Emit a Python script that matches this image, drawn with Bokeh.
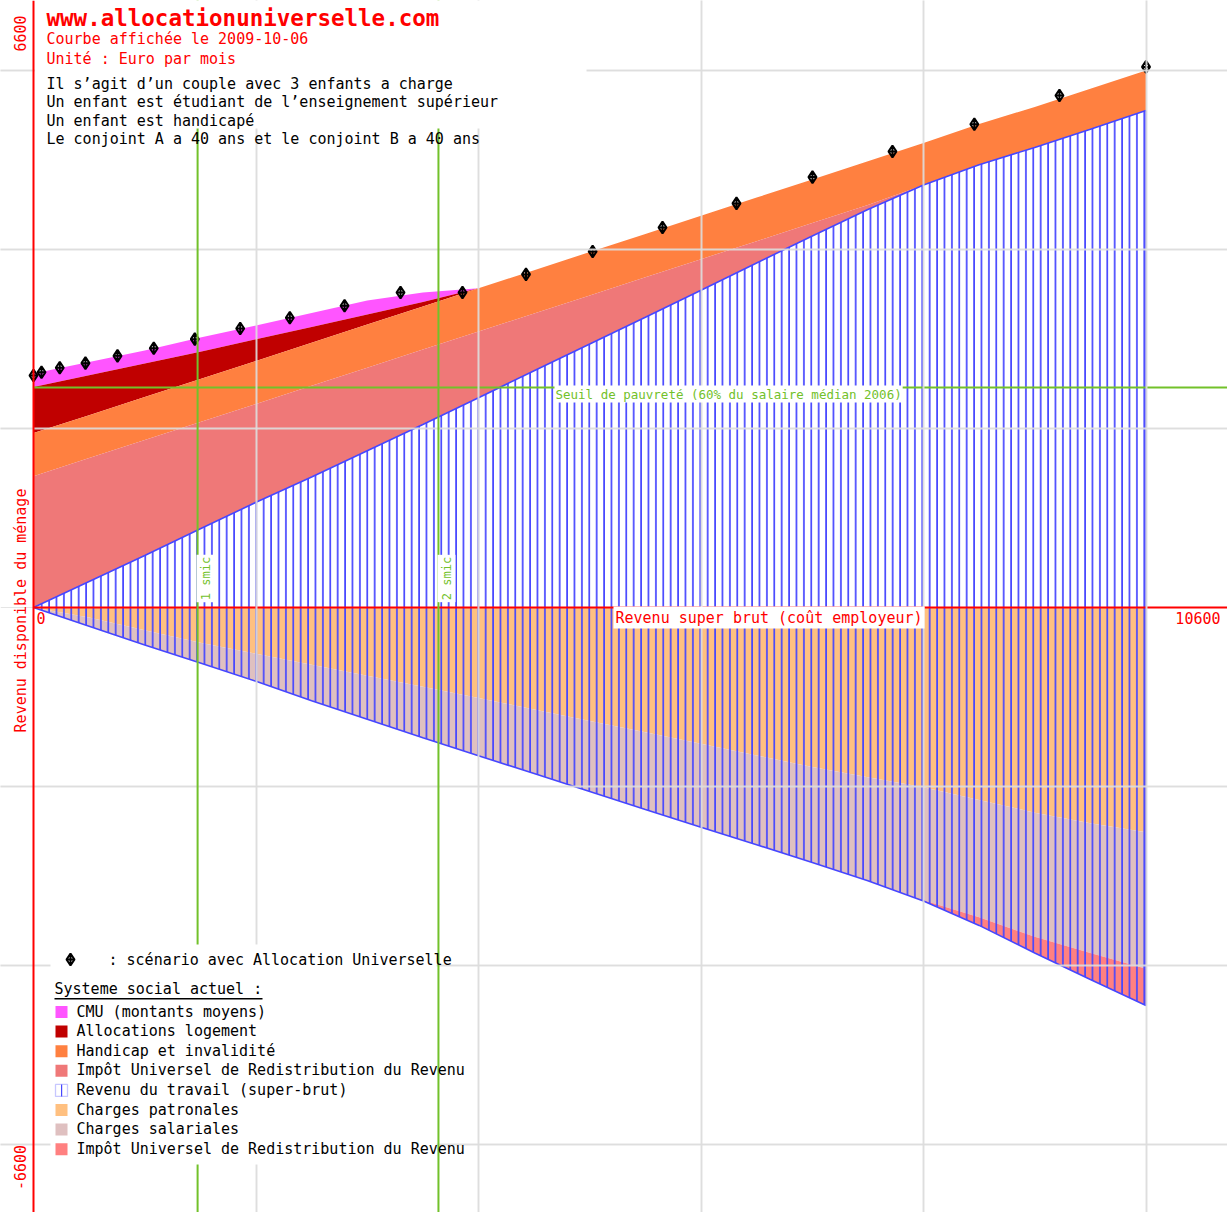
import numpy as np
from math import pi
from bokeh.plotting import figure
from bokeh.models import Range1d, Label, BoxAnnotation, Span, Grid, FixedTicker
from bokeh.embed import file_html
from bokeh.resources import INLINE

# ---------------- data (euros per month) ----------------
# super-brut income (employer cost) sampling
X_GRID = [0, 500, 1000, 1500, 2000, 2500, 3000, 3500, 4000, 4500, 5000,
          5500, 6000, 6500, 7000, 7500, 8000, 8500, 9000, 9500, 10000]
# positive side (household disposable income, current system)
NET = [0, 290, 580, 880, 1175, 1459, 1752, 2045, 2343, 2645, 2944,
       3243, 3545, 3850, 4150, 4447, 4720, 4948, 5140, 5343, 5553]
IURR_POS = [1467, 1379, 1292, 1194, 1100, 1018, 927, 837, 740, 640, 543,
            446, 347, 243, 145, 50, 0, 0, 0, 0, 0]
HANDICAP = [482, 479, 479, 479, 480, 481, 482, 481, 483, 484, 485,
            485, 485, 487, 487, 488, 470, 455, 452, 452, 447]
LOGEMENT = [516, 446, 374, 304, 241, 177, 113, 50, 0, 0, 0,
            0, 0, 0, 0, 0, 0, 0, 0, 0, 0]
CMU = [150, 149, 147, 160, 155, 156, 156, 107, 0, 0, 0,
       0, 0, 0, 0, 0, 0, 0, 0, 0, 0]
# negative side (contributions)
PATRONALES = [0, 113, 254, 394, 516, 639, 762, 885, 1011, 1139, 1267,
              1395, 1523, 1653, 1783, 1898, 2008, 2150, 2292, 2411, 2510]
SALARIALES = [0, 97, 166, 226, 309, 402, 486, 570, 646, 716, 789,
              862, 932, 997, 1067, 1155, 1262, 1312, 1388, 1449, 1527]
IURR_NEG = [0, 0, 0, 0, 0, 0, 0, 0, 0, 0, 0,
            0, 0, 0, 0, 0, 10, 90, 180, 297, 410]
# scenario with Allocation Universelle
AU_X = [0, 72, 236, 467, 755, 1081, 1450, 1858, 2304, 2796, 3299,
        3856, 4427, 5026, 5654, 6319, 7002, 7721, 8457, 9222, 10000]
AU_Y = [2592, 2629, 2678, 2730, 2812, 2897, 2998, 3117, 3237, 3371, 3520,
        3520, 3722, 3978, 4246, 4515, 4809, 5095, 5399, 5721, 6040]
SEUIL = 2458
SMIC_1 = 1475
SMIC_2 = 3640
GRID_X = [2000, 4000, 6000, 8000, 10000]
GRID_Y = [-6000, -4000, -2000, 2000, 4000, 6000]

LEGEND = [("CMU (montants moyens)", "#ff55ff"),
          ("Allocations logement", "#c00000"),
          ("Handicap et invalidité", "#ff8040"),
          ("Impôt Universel de Redistribution du Revenu", "#ef7878"),
          ("Revenu du travail (super-brut)", None),
          ("Charges patronales", "#ffc080"),
          ("Charges salariales", "#dfc0c0"),
          ("Impôt Universel de Redistribution du Revenu", "#ff8080")]

# ---------------- layout helpers (page pixel -> data) ----------------
W, H = 1227, 1212
OFF = 0
X0_PX, Y0_PX = 33.0, 607.0
SX, SY = 222.5 / 2000.0, 179.0 / 2000.0


def X(px):
    return (px - X0_PX) / SX


def Y(py):
    return (Y0_PX - py) / SY


FONT = "DejaVu Sans Mono"
RED = "#ff0000"
GREEN = "#72c12a"
BLUE = "#4646ff"

p = figure(width=W, height=H,
           x_range=Range1d(X(OFF), X(OFF + W)),
           y_range=Range1d(Y(OFF + H), Y(OFF)),
           output_backend="svg", toolbar_location=None,
           x_axis_location=None, y_axis_location=None,
           min_border=0, outline_line_color=None,
           background_fill_color="white", border_fill_color="white")

x = np.array(X_GRID, dtype=float)
net = np.array(NET, dtype=float)
t1 = net + np.array(IURR_POS)
t2 = t1 + np.array(HANDICAP)
t3 = t2 + np.array(LOGEMENT)
t4 = t3 + np.array(CMU)
b1 = -np.array(PATRONALES, dtype=float)
b2 = b1 - np.array(SALARIALES)
b3 = b2 - np.array(IURR_NEG)

# upper stack
p.varea(x=x, y1=t3, y2=t4, fill_color="#ff55ff")
p.varea(x=x, y1=t2, y2=t3, fill_color="#c00000")
p.varea(x=x, y1=t1, y2=t2, fill_color="#ff8040")
p.varea(x=x, y1=net, y2=t1, fill_color="#ef7878")
p.varea(x=x, y1=0, y2=net, fill_color="white")
# lower stack
p.varea(x=x, y1=0, y2=b1, fill_color="#ffc080")
p.varea(x=x, y1=b1, y2=b2, fill_color="#dfc0c0")
p.varea(x=x, y1=b2, y2=b3, fill_color="#ff8080")
# work income hatch (super-brut = net + contributions)
for lo, hi in ((np.zeros_like(net), net), (b3, np.zeros_like(net))):
    p.varea(x=x, y1=lo, y2=hi, fill_alpha=0, hatch_pattern="vertical_line",
            hatch_color=BLUE, hatch_weight=1.7, hatch_scale=7.4)
p.line(x=x, y=net, line_color=BLUE, line_width=1.6)
p.line(x=x, y=b3, line_color=BLUE, line_width=1.6)
p.segment(x0=x[-1:], y0=b3[-1:], x1=x[-1:], y1=net[-1:], line_color=BLUE, line_width=1.5)

# grid lines drawn above the areas
for dim, ticks in ((0, GRID_X), (1, GRID_Y)):
    p.add_layout(Grid(dimension=dim, ticker=FixedTicker(ticks=ticks),
                      grid_line_color="#dddddd", grid_line_width=2,
                      grid_line_alpha=0.9, level="guide"))

# poverty line
p.segment(x0=[0], y0=[SEUIL], x1=[p.x_range.end], y1=[SEUIL], line_color=GREEN, line_width=2)

# allocation universelle markers
p.scatter(x=AU_X, y=AU_Y, marker="diamond_cross", size=12, line_color="black",
          fill_color=None, line_width=2)

# smic lines
for s in (SMIC_1, SMIC_2):
    p.add_layout(Span(location=s, dimension="height", line_color=GREEN, line_width=2))

# zero line (x axis)
p.segment(x0=[0], y0=[0], x1=[p.x_range.end], y1=[0], line_color=RED, line_width=2)

# white box behind the title block
p.add_layout(BoxAnnotation(left=X(34.5), right=X(586), top=Y(0), bottom=Y(128),
                           fill_color="white", fill_alpha=1, line_color=None))
# white box behind legend
p.add_layout(BoxAnnotation(left=X(50), right=X(436), top=Y(944), bottom=Y(1164),
                           fill_color="white", fill_alpha=1, line_color=None))

# y axis line
p.add_layout(Span(location=0, dimension="height", line_color=RED, line_width=2))


def lab(px, py, text, color="black", size=15, bold=False, align="left",
        baseline="alphabetic", angle=0.0, bg=None, pad=0):
    p.add_layout(Label(x=X(px), y=Y(py), text=text, text_color=color,
                       text_font=FONT, text_font_size=f"{size}px",
                       text_font_style="bold" if bold else "normal",
                       text_align=align, text_baseline=baseline, angle=angle,
                       background_fill_color=bg, padding=pad))


# title block
lab(46, 17, "www.allocationuniverselle.com", color=RED, size=22.5, bold=True)
lab(46, 38, "Courbe affichée le 2009-10-06", color=RED)
lab(46, 58, "Unité : Euro par mois", color=RED)
lab(46, 83, "Il s\u2019agit d\u2019un couple avec 3 enfants a charge")
lab(46, 101.5, "Un enfant est étudiant de l\u2019enseignement supérieur")
lab(46, 120, "Un enfant est handicapé")
lab(46, 138, "Le conjoint A a 40 ans et le conjoint B a 40 ans")

# axis texts
lab(20, 610, "Revenu disponible du ménage", color=RED, align="center", baseline="middle", angle=pi / 2)
lab(19, 33, "6600", color=RED, align="center", baseline="middle", angle=pi / 2)
lab(19, 1167, "-6600", color=RED, align="center", baseline="middle", angle=pi / 2)
lab(36, 617, "0", color=RED)
lab(1220, 617, "10600", color=RED, align="right")
lab(613, 617, "Revenu super brut (coût employeur)", color=RED, bg="white", pad=2)
lab(554, 393.5, "Seuil de pauvreté (60% du salaire médian 2006)", color=GREEN, size=12.5, bg="white", pad=1)
lab(205, 578, "1 smic", color=GREEN, size=12, align="center", baseline="middle", angle=pi / 2, bg="white", pad=2)
lab(446, 578, "2 smic", color=GREEN, size=12, align="center", baseline="middle", angle=pi / 2, bg="white", pad=2)

# legend
p.scatter(x=[X(70)], y=[Y(959)], marker="diamond_cross", size=12, line_color="black",
          fill_color=None, line_width=2, level="overlay")
lab(108, 959, ": scénario avec Allocation Universelle")
lab(54, 988, "Systeme social actuel :")
p.add_layout(BoxAnnotation(left=X(54), right=X(262), top=Y(997.5), bottom=Y(999),
                           fill_color="black", fill_alpha=1, line_color=None))
row0, step = 1005.5, 19.6
for i, (txt, col) in enumerate(LEGEND):
    top = row0 + i * step
    if col is None:
        p.add_layout(BoxAnnotation(left=X(55), right=X(67), top=Y(top), bottom=Y(top + 12),
                                   fill_color="white", fill_alpha=1, line_color=BLUE, line_width=1.3))
        p.add_layout(BoxAnnotation(left=X(60.5), right=X(61.7), top=Y(top), bottom=Y(top + 12),
                                   fill_color=BLUE, fill_alpha=1, line_color=None))
    else:
        p.add_layout(BoxAnnotation(left=X(55), right=X(67), top=Y(top), bottom=Y(top + 12),
                                   fill_color=col, fill_alpha=1, line_color=None))
    lab(76, top + 5.5, txt)

open("out.html", "w").write(file_html(p, INLINE))
